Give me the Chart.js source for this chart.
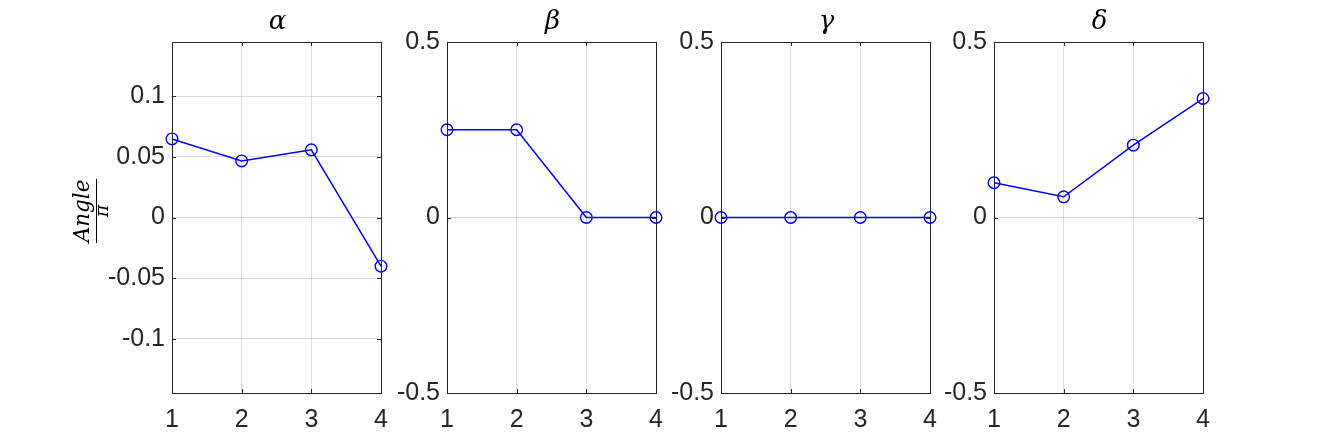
<!DOCTYPE html>
<html>
<head>
<meta charset="utf-8">
<script src="https://cdn.jsdelivr.net/npm/chart.js@4"></script>
<style>
  html, body { margin: 0; padding: 0; background: #ffffff; }
  #wrap { position: relative; width: 1329px; height: 443px; overflow: hidden; background: #ffffff; }
  canvas { position: absolute; top: 0; }
</style>
</head>
<body>
<div id="wrap"></div>
<script>
// ---- data ----
const categories = [1, 2, 3, 4];
const xTicks = [1, 2, 3, 4];
const titles = ['α', 'β', 'γ', 'δ'];
const alphaValues = [0.0647, 0.0466, 0.0557, -0.0401];
const betaValues = [0.25, 0.25, 0, 0];
const gammaValues = [0, 0, 0, 0];
const deltaValues = [0.099, 0.059, 0.206, 0.339];
const alphaYTicks = [-0.1, -0.05, 0, 0.05, 0.1];
const alphaYTickLabels = ['-0.1', '-0.05', '0', '0.05', '0.1'];
const alphaYLimit = 0.1445;
const otherYTicks = [-0.5, 0, 0.5];
const otherYTickLabels = ['-0.5', '0', '0.5'];
const otherYLimit = 0.5;
const yLabelNumerator = 'Angle';
const yLabelDenominator = 'π';

// ---- layout ----
const plotLefts = [172, 447, 721, 994];
const plotW = 209;
const axisW = 100;
const padR = 30;
const axisColor = '#262626';

const panels = [
  { title: titles[0], values: alphaValues, yTicks: alphaYTicks, yLabels: alphaYTickLabels, lim: alphaYLimit, ylabel: true },
  { title: titles[1], values: betaValues, yTicks: otherYTicks, yLabels: otherYTickLabels, lim: otherYLimit },
  { title: titles[2], values: gammaValues, yTicks: otherYTicks, yLabels: otherYTickLabels, lim: otherYLimit },
  { title: titles[3], values: deltaValues, yTicks: otherYTicks, yLabels: otherYTickLabels, lim: otherYLimit },
];

const boxPlugin = {
  id: 'boxPlugin',
  beforeDatasetsDraw(chart) {
    const { ctx, chartArea: a, scales } = chart;
    ctx.save();
    ctx.strokeStyle = axisColor;
    ctx.lineWidth = 1;
    const tl = 4;
    ctx.beginPath();
    scales.x.ticks.forEach(t => {
      const px = Math.round(scales.x.getPixelForValue(t.value)) + 0.5;
      ctx.moveTo(px, a.bottom); ctx.lineTo(px, a.bottom - tl);
      ctx.moveTo(px, a.top); ctx.lineTo(px, a.top + tl);
    });
    scales.y.ticks.forEach(t => {
      const py = Math.round(scales.y.getPixelForValue(t.value)) + 0.5;
      ctx.moveTo(a.left, py); ctx.lineTo(a.left + tl, py);
      ctx.moveTo(a.right, py); ctx.lineTo(a.right - tl, py);
    });
    ctx.stroke();
    ctx.strokeRect(Math.round(a.left) + 0.5, Math.round(a.top) + 0.5,
                   Math.round(a.right - a.left), Math.round(a.bottom - a.top));
    ctx.restore();
  },
  afterDraw(chart, args, opts) {
    const { ctx, chartArea: a } = chart;
    ctx.save();
    ctx.fillStyle = '#000000';
    ctx.font = 'italic 26px "DejaVu Serif"';
    ctx.textAlign = 'center';
    ctx.textBaseline = 'alphabetic';
    ctx.fillText(opts.title, (a.left + a.right) / 2 + 1, 29);
    if (opts.ylabel) {
      const cx = a.left - 76, cy = 211;
      ctx.translate(cx, cy);
      ctx.rotate(-Math.PI / 2);
      ctx.font = 'italic 21.5px "DejaVu Serif"';
      ctx.fillText(yLabelNumerator, 0, -7);
      ctx.font = 'italic 19px "DejaVu Serif"';
      ctx.fillText(yLabelDenominator, 0, 12);
      ctx.strokeStyle = '#000000';
      ctx.lineWidth = 1;
      ctx.beginPath();
      ctx.moveTo(-32, 0.5); ctx.lineTo(32, 0.5);
      ctx.stroke();
    }
    ctx.restore();
  }
};

const wrap = document.getElementById('wrap');
panels.forEach((p, i) => {
  const cv = document.createElement('canvas');
  const w = axisW + plotW + padR;
  cv.width = w; cv.height = 443;
  cv.style.width = w + 'px'; cv.style.height = '443px';
  cv.style.left = (plotLefts[i] - axisW) + 'px';
  wrap.appendChild(cv);
  new Chart(cv, {
    type: 'line',
    data: {
      datasets: [{
        data: categories.map((x, k) => ({ x: x, y: p.values[k] })),
        borderColor: '#0000ff',
        backgroundColor: 'rgba(0,0,0,0)',
        borderWidth: 1.5,
        pointStyle: 'circle',
        pointRadius: 5.8,
        pointBorderWidth: 1.4,
        pointBorderColor: '#0000ff',
        pointBackgroundColor: 'rgba(0,0,0,0)',
        tension: 0,
        clip: false,
        fill: false
      }]
    },
    options: {
      responsive: false,
      animation: false,
      devicePixelRatio: 1,
      layout: { padding: { top: 42, right: padR, left: 0, bottom: 0 } },
      plugins: {
        legend: { display: false },
        tooltip: { enabled: false },
        title: { display: false },
        boxPlugin: { title: p.title, ylabel: !!p.ylabel }
      },
      scales: {
        x: {
          type: 'linear',
          min: 1, max: 4,
          afterBuildTicks: s => { s.ticks = xTicks.map(v => ({ value: v })); },
          afterFit: s => { s.height = 50; },
          grid: { color: 'rgba(38,38,38,0.15)', lineWidth: 1, drawTicks: false },
          border: { display: false },
          ticks: {
            color: axisColor,
            font: { family: '"Liberation Sans", Arial, sans-serif', size: 25 },
            padding: 12,
            maxRotation: 0,
            autoSkip: false,
            callback: v => String(v)
          }
        },
        y: {
          type: 'linear',
          min: -p.lim, max: p.lim,
          afterBuildTicks: s => { s.ticks = p.yTicks.map(v => ({ value: v })); },
          afterFit: s => { s.width = axisW; },
          grid: { color: 'rgba(38,38,38,0.15)', lineWidth: 1, drawTicks: false },
          border: { display: false },
          ticks: {
            color: axisColor,
            font: { family: '"Liberation Sans", Arial, sans-serif', size: 25 },
            padding: 7,
            autoSkip: false,
            callback: (v) => {
              const idx = p.yTicks.findIndex(t => Math.abs(t - v) < 1e-9);
              return idx >= 0 ? p.yLabels[idx] : '';
            }
          }
        }
      }
    },
    plugins: [boxPlugin]
  });
});
</script>
</body>
</html>
